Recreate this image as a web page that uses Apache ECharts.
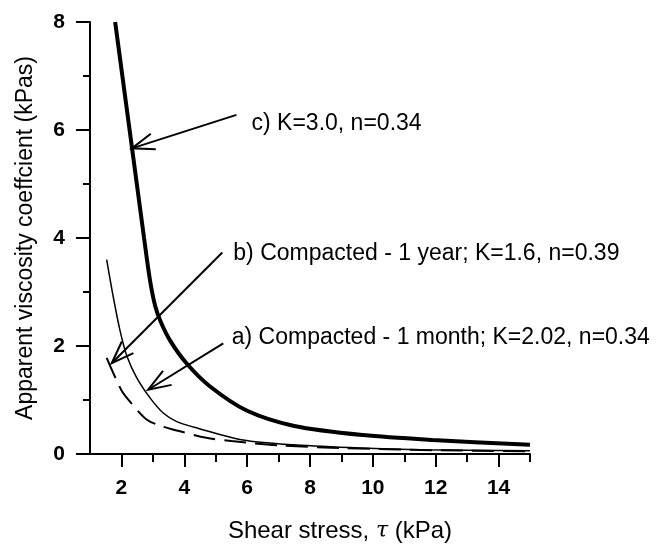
<!DOCTYPE html>
<html>
<head>
<meta charset="utf-8">
<script src="https://cdn.jsdelivr.net/npm/echarts@6/dist/echarts.min.js"></script>
<style>html,body{margin:0;padding:0;background:#fff;}#c{width:657px;height:551px;}</style>
</head>
<body>
<div id="c"></div>
<script>
// Curve c) K=3.0, n=0.34 (thick solid)
const curveC = [[1.8,8.0],[2.03,7.0],[2.26,6.0],[2.49,5.0],[2.72,4.0],[2.9,3.25],[3.07,2.75],[3.25,2.45],[3.55,2.1],[4.07,1.68],[4.8,1.26],[6.0,0.8],[7.5,0.52],[9.7,0.35],[11.9,0.26],[15.0,0.17]];
// Curve b) Compacted - 1 year (thin solid)
const curveB = [[1.53,3.6],[1.74,2.91],[1.95,2.3],[2.17,1.82],[2.48,1.42],[2.91,1.04],[3.33,0.76],[3.76,0.6],[4.29,0.5],[5.87,0.26],[7.5,0.17],[9.6,0.11],[11.5,0.08],[15.0,0.06]];
// Curve a) Compacted - 1 month (dashed)
const curveA = [[1.53,1.78],[2.0,1.18],[2.3,0.95],[2.8,0.64],[3.3,0.51],[3.8,0.43],[4.7,0.3],[5.5,0.24],[7.0,0.16],[9.0,0.11],[12.0,0.07],[15.0,0.05]];

const xMajorTicks = [2,4,6,8,10,12,14];
const xMinorTicks = [3,5,7,9,11,13,15];

// annotations: tail (x,y), tip (x,y), label anchor (x,y), text
const annTail = [[5.66,6.28],[5.21,3.73],[5.24,2.05]];
const annTip = [[2.33,5.66],[1.69,1.68],[2.85,1.19]];
const annLabelPos = [[6.14,6.11],[5.56,3.71],[5.51,2.15]];
const annText = ['c) K=3.0, n=0.34','b) Compacted - 1 year; K=1.6, n=0.39','a) Compacted - 1 month; K=2.02, n=0.34'];

const FONT = "'Liberation Sans', Arial, sans-serif";
const annData = annTail.map((t,i)=>[t[0],t[1],annTip[i][0],annTip[i][1],annLabelPos[i][0],annLabelPos[i][1],i]);

const chart = echarts.init(document.getElementById('c'));
chart.setOption({
  animation:false,
  backgroundColor:'#fff',
  grid:{left:90,top:22,right:127,bottom:97},
  xAxis:[{
    type:'value',min:1,max:15,position:'bottom',
    axisLine:{show:true,onZero:false,lineStyle:{color:'#000',width:2}},
    axisTick:{show:true,customValues:xMajorTicks,length:13,lineStyle:{color:'#000',width:2}},
    axisLabel:{show:true,customValues:xMajorTicks,margin:24,color:'#000',fontSize:21,fontWeight:'bold',fontFamily:FONT},
    splitLine:{show:false},
    name:'Shear stress, {t|τ} (kPa)',nameLocation:'middle',nameGap:65,
    nameTextStyle:{color:'#000',fontSize:24,fontFamily:FONT,padding:[0,0,0,60],
      rich:{t:{fontFamily:"'DejaVu Serif', serif",fontStyle:'italic',fontSize:22,color:'#000'}}}
  },{
    type:'value',min:1,max:15,position:'bottom',
    axisLine:{show:false},
    axisTick:{show:true,customValues:xMinorTicks,length:8,lineStyle:{color:'#000',width:2}},
    axisLabel:{show:false},splitLine:{show:false}
  }],
  yAxis:{
    type:'value',min:0,max:8,interval:2,
    axisLine:{show:true,onZero:false,lineStyle:{color:'#000',width:2}},
    axisTick:{show:true,length:14,lineStyle:{color:'#000',width:2}},
    minorTick:{show:true,splitNumber:2,length:7,lineStyle:{color:'#000',width:2}},
    axisLabel:{margin:25,color:'#000',fontSize:21,fontWeight:'bold',fontFamily:FONT},
    splitLine:{show:false},
    name:'Apparent viscosity coeffcient (kPas)',nameLocation:'middle',nameGap:53,
    nameTextStyle:{color:'#000',fontSize:23,fontFamily:FONT}
  },
  series:[
    {type:'line',data:curveC,showSymbol:false,smooth:0.3,lineStyle:{color:'#000',width:4},z:3},
    {type:'line',data:curveB,showSymbol:false,smooth:0.3,lineStyle:{color:'#000',width:1.5},z:3},
    {type:'line',data:curveA,showSymbol:false,smooth:0.3,lineStyle:{color:'#000',width:2,type:[22,9]},z:3},
    {type:'custom',data:annData,z:5,
      renderItem:function(params,api){
        const tail=api.coord([api.value(0),api.value(1)]);
        const tip=api.coord([api.value(2),api.value(3)]);
        const lab=api.coord([api.value(4),api.value(5)]);
        const idx=api.value(6);
        const ang=Math.atan2(tail[1]-tip[1],tail[0]-tip[0]);
        const L=24, da=20*Math.PI/180;
        const b1=[tip[0]+L*Math.cos(ang+da),tip[1]+L*Math.sin(ang+da)];
        const b2=[tip[0]+L*Math.cos(ang-da),tip[1]+L*Math.sin(ang-da)];
        const st={stroke:'#000',lineWidth:2,fill:null};
        return {type:'group',children:[
          {type:'polyline',shape:{points:[tail,tip]},style:st},
          {type:'polyline',shape:{points:[b1,tip,b2]},style:st},
          {type:'text',x:lab[0],y:lab[1],style:{text:annText[idx],fill:'#000',font:'23px '+FONT,textAlign:'left',textVerticalAlign:'middle'}}
        ]};
      }
    }
  ]
});
</script>
</body>
</html>
